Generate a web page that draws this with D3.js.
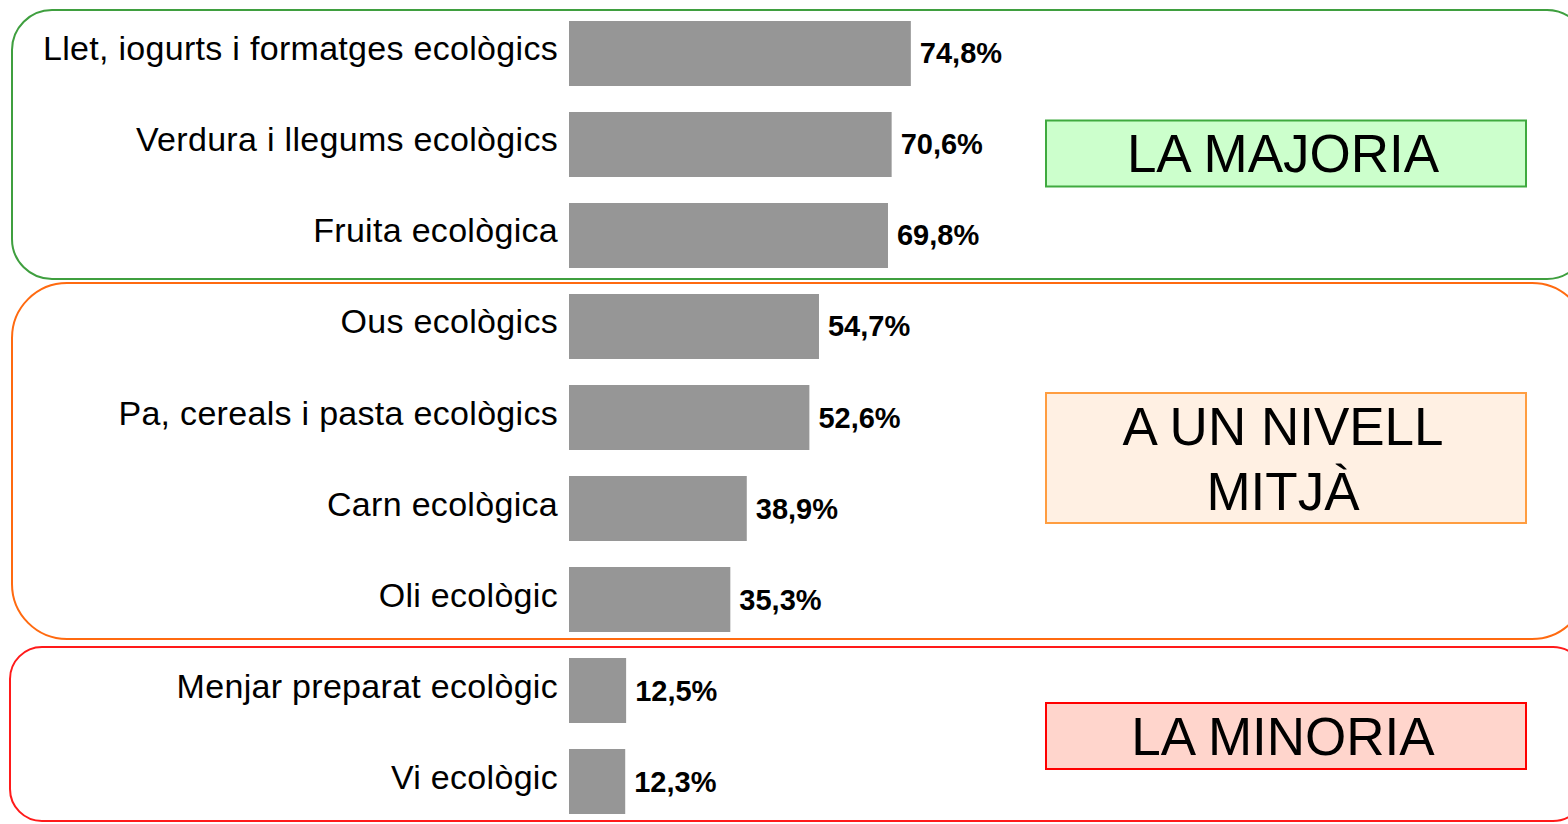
<!DOCTYPE html>
<html>
<head>
<meta charset="utf-8">
<script src="https://cdn.jsdelivr.net/npm/d3@7"></script>
<style>
  body { margin: 0; background: #fff; }
  svg { display: block; font-family: 'Liberation Sans', Arial, sans-serif; }
</style>
</head>
<body>
<div id="chart"></div>
<script>
// Categories (top to bottom) and percentages
var categories = [
  'Llet, iogurts i formatges ecològics',
  'Verdura i llegums ecològics',
  'Fruita ecològica',
  'Ous ecològics',
  'Pa, cereals i pasta ecològics',
  'Carn ecològica',
  'Oli ecològic',
  'Menjar preparat ecològic',
  'Vi ecològic'
];
var values = [74.8, 70.6, 69.8, 54.7, 52.6, 38.9, 35.3, 12.5, 12.3];

// Groups: label lines, first and last category index
var groupLabels = [['LA MAJORIA'], ['A UN NIVELL', 'MITJÀ'], ['LA MINORIA']];
var groupFirst = [0, 3, 7];
var groupLast = [2, 6, 8];

// Group colours
var outlineColors = ['#3f9f3f', '#ff6a10', '#ff1a1a'];
var boxStroke = ['#3faa3f', '#ff9d40', '#ff0000'];
var boxFill = ['#ccffcc', '#fff0e3', '#ffd5cc'];
var cornerRadius = [40, 55, 32];

var w = 1568;
var h = 824;

var svg = d3.select('#chart')
  .append('svg')
  .attr('width', w)
  .attr('height', h);

// Scales
var yScale = d3.scaleBand()
  .domain(categories)
  .range([-5, 840])
  .padding(0.2857);

var xScale = d3.scaleLinear()
  .domain([0, 100])
  .range([569, 1026]);

var bw = yScale.bandwidth();

// Group outlines and label boxes
groupLabels.forEach(function (lines, i) {
  var top = yScale(categories[groupFirst[i]]) - 11;
  var bottom = yScale(categories[groupLast[i]]) + bw + (i == 0 ? 11 : 7);
  var g = svg.append('g');

  g.append('rect')
    .attr('x', i == 2 ? 10 : 12)
    .attr('y', top)
    .attr('width', 1575)
    .attr('height', bottom - top)
    .attr('rx', cornerRadius[i])
    .attr('ry', cornerRadius[i])
    .attr('fill', 'none')
    .attr('stroke', outlineColors[i])
    .attr('stroke-width', 2);

  var boxH = lines.length == 1 ? 66 : 130;
  var mid = (top + bottom) / 2 + [9, -3, 2][i];
  g.append('rect')
    .attr('x', 1046)
    .attr('y', mid - boxH / 2)
    .attr('width', 480)
    .attr('height', boxH)
    .attr('fill', boxFill[i])
    .attr('stroke', boxStroke[i])
    .attr('stroke-width', 2);

  lines.forEach(function (line, j) {
    g.append('text')
      .attr('x', 1283)
      .attr('y', mid - (lines.length - 1) * 32.5 + j * 65 + 19)
      .attr('text-anchor', 'middle')
      .attr('font-size', 53)
      .attr('fill', '#000')
      .text(line);
  });
});

// Bars
svg.append('g')
  .selectAll('rect')
  .data(values)
  .enter()
  .append('rect')
  .attr('x', xScale(0))
  .attr('y', function (d, i) { return yScale(categories[i]); })
  .attr('width', function (d) { return xScale(d) - xScale(0); })
  .attr('height', bw)
  .attr('fill', '#969696');

// Category labels
svg.append('g')
  .selectAll('text')
  .data(categories)
  .enter()
  .append('text')
  .attr('x', xScale(0) - 11)
  .attr('y', function (d) { return yScale(d) + bw / 2 + 7; })
  .attr('text-anchor', 'end')
  .attr('font-size', 34)
  .attr('letter-spacing', 0.3)
  .attr('fill', '#000')
  .text(function (d) { return d; });

// Value labels
svg.append('g')
  .selectAll('text')
  .data(values)
  .enter()
  .append('text')
  .attr('x', function (d) { return xScale(d) + 9; })
  .attr('y', function (d, i) { return yScale(categories[i]) + bw / 2 + 10; })
  .attr('font-size', 29)
  .attr('font-weight', 'bold')
  .attr('fill', '#000')
  .text(function (d) { return d.toFixed(1).replace('.', ',') + '%'; });
</script>
</body>
</html>
